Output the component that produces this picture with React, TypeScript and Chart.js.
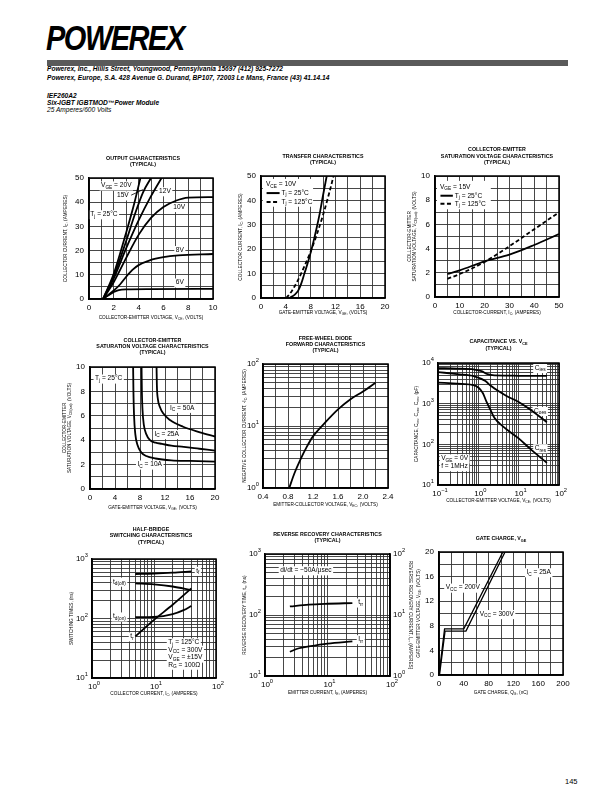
import React, { useEffect, useRef } from 'react';
import { Chart, registerables } from 'chart.js';
Chart.register(...registerables);

const FONT = '"Liberation Sans", Arial, Helvetica, sans-serif';

// ===== 1. Output characteristics (VCE V, IC A) =====
const out6Vce = [1.13, 1.5, 2.0, 2.4, 3.0, 5.0, 10];
const out6Ic = [0, 1.3, 2.9, 3.7, 4.0, 4.1, 4.2];
const out8Vce = [1.13, 2.0, 2.5, 3.0, 3.5, 4.0, 4.9, 6.0, 7.2, 10];
const out8Ic = [0, 3.5, 6.0, 9.2, 12.0, 14.0, 16.0, 17.3, 18.0, 18.6];
const out10Vce = [1.13, 2.0, 3.0, 4.0, 5.0, 6.0, 7.0, 8.0, 10];
const out10Ic = [0, 7.0, 17.0, 26.5, 33.5, 38.0, 40.6, 41.9, 42.1];
const out12Vce = [1.13, 2.0, 3.0, 4.0, 5.0, 5.85];
const out12Ic = [0, 8.5, 21.0, 32.5, 42.5, 50];
const out15Vce = [1.13, 2.0, 3.0, 3.7, 4.35, 5.0];
const out15Ic = [0, 9.5, 24.0, 35.0, 44.0, 50];
const out20Vce = [1.13, 2.0, 3.0, 3.6, 4.15];
const out20Ic = [0, 10.5, 27.5, 38.5, 50];

// ===== 2. Transfer characteristics (VGE V, IC A) =====
const tr25Vge = [4.6, 5.5, 6.0, 6.5, 7.0, 7.5, 8.0, 8.5, 9.0, 9.5, 10.0, 10.6];
const tr25Ic = [0, 1.5, 3.0, 6.0, 10.0, 14.0, 18.5, 23.5, 29.0, 35.0, 42.0, 50];
const tr125Vge = [4.1, 5.0, 6.0, 7.0, 8.0, 9.0, 10.0, 11.0, 11.7];
const tr125Ic = [0, 3.0, 7.5, 13.0, 19.0, 26.0, 34.0, 43.0, 50];

// ===== 3. VCE(sat) vs IC =====
const satIc = [5, 10, 20, 30, 40, 50];
const sat25Vce = [1.9, 2.2, 2.95, 3.5, 4.3, 5.2];
const sat125Vce = [1.5, 1.9, 2.9, 4.2, 5.6, 7.0];

// ===== 4. VCE(sat) vs VGE =====
const gv10Vge = [6.9, 6.95, 7.05, 7.25, 7.6, 8.2, 9.0, 10.5, 13, 16, 20];
const gv10Vce = [10, 8, 6, 4.5, 3.6, 3.0, 2.7, 2.5, 2.35, 2.3, 2.25];
const gv25Vge = [8.25, 8.3, 8.4, 8.6, 9.0, 9.6, 10.5, 11.5, 13, 15, 17.5, 20];
const gv25Vce = [10, 8, 6.5, 5.3, 4.5, 4.0, 3.8, 3.7, 3.55, 3.45, 3.3, 3.15];
const gv50Vge = [10.65, 10.7, 10.85, 11.2, 11.7, 12.8, 14.9, 17.6, 20];
const gv50Vce = [10, 8.5, 7.4, 6.7, 6.2, 5.65, 5.1, 4.65, 4.3];

// ===== 5. Free-wheel diode forward =====
const fwdVec = [0.82, 0.9, 1.0, 1.1, 1.2, 1.4, 1.6, 1.8, 2.0, 2.2];
const fwdIc = [1.0, 1.7, 2.9, 4.6, 6.8, 11.5, 18.5, 27, 36, 50];

// ===== 6. Capacitance vs VCE =====
const ciesV = [0.1, 0.3, 0.8, 1.2, 1.7, 2.5, 5, 10, 50];
const ciesC = [7500, 7300, 6900, 6300, 5300, 4950, 4900, 4850, 4800];
const coesV = [0.1, 0.3, 0.8, 1.5, 2, 3, 5, 10, 20, 50];
const coesC = [6000, 5300, 4700, 3600, 2800, 2100, 1550, 1100, 700, 350];
const cresV = [0.1, 0.3, 0.7, 1.0, 1.3, 1.6, 2.0, 2.5, 4, 10, 20, 50];
const cresC = [3300, 3100, 2900, 2500, 1800, 1100, 700, 450, 280, 140, 75, 35];

// ===== 7. Half-bridge switching =====
const swIc = [5, 10, 20, 40];
const swTf = [560, 570, 590, 620];
const swTdOff = [390, 375, 345, 300];
const swTr = [50, 95, 170, 320];
const swIcOn = [5, 10, 20, 30, 40];
const swTdOn = [105, 106, 118, 138, 162];

// ===== 8. Reverse recovery =====
const rrIe = [2.5, 5, 10, 25];
const rrTrr = [138, 148, 153, 157];
const rrIeIrr = [2.5, 3.5, 5, 10, 25];
const rrIrr = [2.5, 2.85, 3.05, 3.4, 3.7];

// ===== 9. Gate charge =====
const gc200Q = [0, 9, 40, 103];
const gc200V = [0, 7.5, 7.5, 20];
const gc300Q = [0.8, 9.8, 43.5, 106.5];
const gc300V = [0, 7.15, 7.15, 20];

// ===== tick label sets for log axes =====
const dec1to100 = [1, 10, 100];
const dec10to1000 = [10, 100, 1000];
const decCapX = [0.1, 1, 10, 100];
const decCapY = [10, 100, 1000, 10000];

type Axis = { log?: boolean; min: number; max: number; step?: number; labelStep?: number; dec?: number; labels?: number[] };
type Series = { xs: number[]; ys: number[]; dash?: boolean; y2?: boolean; straight?: boolean; w?: number };
type Ann = { x: number; y: number; s: string; align?: 'left' | 'center' | 'right'; y2?: boolean; bg?: boolean; size?: number };
type Seg = { x1: number; y1: number; x2: number; y2: number; dash?: number[]; w?: number };
type Box = { x1: number; y1: number; x2: number; y2: number };
type Spec = {
  plot: [number, number, number, number];
  titles: string[]; titleYs: number[]; titleDx?: number;
  xTitle: string; xTitleDy: number;
  yTitle: string[]; yTitleDx: number[];
  y2Title?: string; y2TitleDx?: number;
  x: Axis; y: Axis; y2?: Axis;
  series: Series[];
  anns?: Ann[]; segs?: Seg[]; boxes?: Box[];
};

const PL = 52, PT = 36, PB = 30, PR = 16;
const ANN = 6.6;
const TICK = 8;

function parseRich(s: string) {
  const out: { t: string; m: string }[] = [];
  let buf = '';
  let i = 0;
  while (i < s.length) {
    const ch = s[i];
    if ((ch === '_' || ch === '^') && s[i + 1] === '{') {
      if (buf) { out.push({ t: buf, m: 'n' }); buf = ''; }
      const end = s.indexOf('}', i + 2);
      out.push({ t: s.slice(i + 2, end), m: ch === '_' ? 'b' : 'p' });
      i = end + 1;
    } else { buf += ch; i++; }
  }
  if (buf) out.push({ t: buf, m: 'n' });
  return out;
}
function richWidth(ctx: any, s: string, size: number, weight: string) {
  let w = 0;
  for (const p of parseRich(s)) {
    ctx.font = `${weight} ${p.m === 'n' ? size : size * 0.72}px ${FONT}`;
    w += ctx.measureText(p.t).width;
  }
  return w;
}
function drawRich(ctx: any, s: string, x: number, y: number, size: number, align: string, weight = 'normal') {
  const w = richWidth(ctx, s, size, weight);
  let cx = align === 'center' ? x - w / 2 : align === 'right' ? x - w : x;
  ctx.textAlign = 'left';
  ctx.textBaseline = 'middle';
  ctx.fillStyle = '#000';
  for (const p of parseRich(s)) {
    const fs = p.m === 'n' ? size : size * 0.72;
    ctx.font = `${weight} ${fs}px ${FONT}`;
    const dy = p.m === 'b' ? size * 0.3 : p.m === 'p' ? -size * 0.4 : 0;
    ctx.fillText(p.t, cx, y + dy);
    cx += ctx.measureText(p.t).width;
  }
  return w;
}
function powLabel(v: number) {
  const e = Math.round(Math.log10(v));
  return '10^{' + (e < 0 ? '\u2212' + Math.abs(e) : String(e)) + '}';
}

function tickList(a: Axis): number[] {
  const out: number[] = [];
  if (a.log) {
    const e0 = Math.floor(Math.log10(a.min) + 1e-9);
    const e1 = Math.ceil(Math.log10(a.max) - 1e-9);
    for (let e = e0; e <= e1; e++) {
      for (let m = 1; m <= 9; m++) {
        const v = parseFloat((m * Math.pow(10, e)).toPrecision(6));
        if (v >= a.min * 0.9999 && v <= a.max * 1.0001) out.push(v);
      }
    }
  } else {
    const n = Math.round((a.max - a.min) / (a.step as number));
    for (let i = 0; i <= n; i++) out.push(parseFloat((a.min + i * (a.step as number)).toFixed(6)));
  }
  return out;
}

function scaleCfg(a: Axis, axis: 'x' | 'y', size: number, position: string, grid: boolean) {
  return {
    type: a.log ? 'logarithmic' : 'linear',
    position,
    min: a.min,
    max: a.max,
    bounds: 'data',
    afterBuildTicks: (sc: any) => { sc.ticks = tickList(a).map((v) => ({ value: v })); },
    afterFit: (sc: any) => { if (axis === 'x') sc.height = size; else sc.width = size; },
    ticks: {
      autoSkip: false, maxRotation: 0, minRotation: 0,
      padding: axis === 'x' ? 4 : 5,
      color: '#000',
      font: { family: FONT, size: TICK },
      callback: (v: number) => {
        if (a.log) return '';
        const k = v / (a.labelStep as number);
        return Math.abs(k - Math.round(k)) < 1e-6 ? v.toFixed(a.dec || 0) : '';
      },
    },
    grid: { display: true, drawOnChartArea: grid, color: '#333', lineWidth: 0.9, drawTicks: false, tickLength: 0 },
    border: { display: true, color: '#000', width: 1.5 },
  };
}

function makeDecor(spec: Spec) {
  return {
    id: 'decor',
    beforeDatasetsDraw(chart: any) {
      const ctx = chart.ctx;
      const sx = chart.scales.x, sy = chart.scales.y, sy2 = chart.scales.y2;
      ctx.save();
      ctx.fillStyle = '#fff';
      (spec.boxes || []).forEach((b) => {
        const x1 = sx.getPixelForValue(b.x1), x2 = sx.getPixelForValue(b.x2);
        const y1 = sy.getPixelForValue(b.y1), y2 = sy.getPixelForValue(b.y2);
        ctx.fillRect(Math.min(x1, x2), Math.min(y1, y2), Math.abs(x2 - x1), Math.abs(y2 - y1));
      });
      (spec.anns || []).forEach((a) => {
        if (!a.bg) return;
        const ys = a.y2 ? sy2 : sy;
        const size = a.size || ANN;
        const px = sx.getPixelForValue(a.x), py = ys.getPixelForValue(a.y);
        const w = richWidth(ctx, a.s, size, 'normal');
        const x0 = a.align === 'right' ? px - w : a.align === 'center' ? px - w / 2 : px;
        ctx.fillStyle = '#fff';
        ctx.fillRect(x0 - 1.5, py - size * 0.62, w + 3, size * 1.38);
      });
      ctx.restore();
    },
    afterDraw(chart: any) {
      const ctx = chart.ctx;
      const ca = chart.chartArea;
      const sx = chart.scales.x, sy = chart.scales.y, sy2 = chart.scales.y2;
      ctx.save();
      // legend samples / leader lines
      (spec.segs || []).forEach((s) => {
        ctx.beginPath();
        ctx.strokeStyle = '#000';
        ctx.lineWidth = s.w || 1;
        ctx.setLineDash(s.dash || []);
        ctx.moveTo(sx.getPixelForValue(s.x1), sy.getPixelForValue(s.y1));
        ctx.lineTo(sx.getPixelForValue(s.x2), sy.getPixelForValue(s.y2));
        ctx.stroke();
      });
      ctx.setLineDash([]);
      // annotations
      (spec.anns || []).forEach((a) => {
        const ys = a.y2 ? sy2 : sy;
        drawRich(ctx, a.s, sx.getPixelForValue(a.x), ys.getPixelForValue(a.y), a.size || ANN, a.align || 'left');
      });
      // frame
      ctx.strokeStyle = '#000';
      ctx.lineWidth = 1.5;
      ctx.strokeRect(ca.left, ca.top, ca.right - ca.left, ca.bottom - ca.top);
      const cx = (ca.left + ca.right) / 2;
      const cy = (ca.top + ca.bottom) / 2;
      // titles
      spec.titles.forEach((t, i) => drawRich(ctx, t, cx + (spec.titleDx || 0), ca.top + spec.titleYs[i], 5.3, 'center', 'bold'));
      drawRich(ctx, spec.xTitle, cx, ca.bottom + spec.xTitleDy, 4.7, 'center');
      spec.yTitle.forEach((t, i) => {
        ctx.save();
        ctx.translate(ca.left + spec.yTitleDx[i], cy);
        ctx.rotate(-Math.PI / 2);
        drawRich(ctx, t, 0, 0, 4.7, 'center');
        ctx.restore();
      });
      if (spec.y2Title) {
        ctx.save();
        ctx.translate(ca.right + (spec.y2TitleDx || 20), cy);
        ctx.rotate(Math.PI / 2);
        drawRich(ctx, spec.y2Title, 0, 0, 4.7, 'center');
        ctx.restore();
      }
      // log tick labels
      if (spec.x.log) (spec.x.labels || []).forEach((v) => drawRich(ctx, powLabel(v), sx.getPixelForValue(v) + 2, ca.bottom + 9, TICK, 'center'));
      if (spec.y.log) (spec.y.labels || []).forEach((v) => drawRich(ctx, powLabel(v), ca.left - 4, sy.getPixelForValue(v), TICK, 'right'));
      if (spec.y2 && spec.y2.log) (spec.y2.labels || []).forEach((v) => drawRich(ctx, powLabel(v), ca.right + 3, sy2.getPixelForValue(v), TICK, 'left'));
      ctx.restore();
    },
  };
}

function buildConfig(spec: Spec): any {
  const scales: any = {
    x: scaleCfg(spec.x, 'x', PB, 'bottom', true),
    y: scaleCfg(spec.y, 'y', PL, 'left', true),
  };
  if (spec.y2) scales.y2 = scaleCfg(spec.y2, 'y', 40, 'right', false);
  return {
    type: 'scatter',
    data: {
      datasets: spec.series.map((s) => ({
        data: s.xs.map((x, i) => ({ x, y: s.ys[i] })),
        showLine: true,
        pointRadius: 0,
        pointHoverRadius: 0,
        borderColor: '#000',
        backgroundColor: '#000',
        borderWidth: s.w || 1.8,
        borderDash: s.dash ? [4, 2.5] : [],
        cubicInterpolationMode: s.straight ? 'default' : 'monotone',
        tension: 0,
        fill: false,
        yAxisID: s.y2 ? 'y2' : 'y',
      })),
    },
    options: {
      responsive: false,
      animation: false,
      devicePixelRatio: 1,
      events: [],
      layout: { padding: { left: 0, top: PT, right: spec.y2 ? 4 : PR, bottom: 0 } },
      plugins: { legend: { display: false }, tooltip: { enabled: false }, title: { display: false } },
      scales,
    },
    plugins: [makeDecor(spec)],
  };
}

const specs: Spec[] = [
  {
    plot: [89, 178, 213, 299],
    titles: ['OUTPUT CHARACTERISTICS', '(TYPICAL)'], titleYs: [-19, -13], titleDx: -8,
    xTitle: 'COLLECTOR-EMITTER VOLTAGE, V_{CE}, (VOLTS)', xTitleDy: 19,
    yTitle: ['COLLECTOR CURRENT, I_{C}, (AMPERES)'], yTitleDx: [-23],
    x: { min: 0, max: 10, step: 1, labelStep: 2 },
    y: { min: 0, max: 50, step: 5, labelStep: 10 },
    series: [
      { xs: out6Vce, ys: out6Ic }, { xs: out8Vce, ys: out8Ic }, { xs: out10Vce, ys: out10Ic },
      { xs: out12Vce, ys: out12Ic }, { xs: out15Vce, ys: out15Ic }, { xs: out20Vce, ys: out20Ic },
    ],
    anns: [
      { x: 0.97, y: 46.9, s: 'V_{GE} = 20V', bg: true },
      { x: 2.26, y: 42.8, s: '15V', bg: true },
      { x: 5.65, y: 44.5, s: '12V', bg: true },
      { x: 6.8, y: 38, s: '10V', bg: true },
      { x: 7.0, y: 20.2, s: '8V', bg: true },
      { x: 7.0, y: 6.8, s: '6V', bg: true },
      { x: 0.1, y: 35.0, s: 'T_{j} = 25\u00B0C', bg: true },
    ],
    segs: [{ x1: 3.4, y1: 42.9, x2: 4.35, y2: 45.2, w: 0.8 }],
  },
  {
    plot: [261, 176, 385, 298],
    titles: ['TRANSFER CHARACTERISTICS', '(TYPICAL)'], titleYs: [-19, -13],
    xTitle: 'GATE-EMITTER VOLTAGE, V_{GE}, (VOLTS)', xTitleDy: 15,
    yTitle: ['COLLECTOR CURRENT, I_{C}, (AMPERES)'], yTitleDx: [-20],
    x: { min: 0, max: 20, step: 2, labelStep: 4 },
    y: { min: 0, max: 50, step: 5, labelStep: 10 },
    series: [{ xs: tr25Vge, ys: tr25Ic }, { xs: tr125Vge, ys: tr125Ic, dash: true }],
    boxes: [{ x1: 0.3, y1: 37.4, x2: 8.4, y2: 48.8 }],
    anns: [
      { x: 0.8, y: 46.6, s: 'V_{CE} = 10V' },
      { x: 3.3, y: 43.0, s: 'T_{j} = 25\u00B0C' },
      { x: 3.3, y: 39.3, s: 'T_{j} = 125\u00B0C' },
    ],
    segs: [
      { x1: 0.9, y1: 43.0, x2: 3.0, y2: 43.0, w: 2 },
      { x1: 0.9, y1: 39.3, x2: 3.0, y2: 39.3, w: 2, dash: [4, 2.5] },
    ],
  },
  {
    plot: [435, 176, 559, 297],
    titles: ['COLLECTOR-EMITTER', 'SATURATION VOLTAGE CHARACTERISTICS', '(TYPICAL)'], titleYs: [-26, -19.5, -13],
    xTitle: 'COLLECTOR-CURRENT, I_{C}, (AMPERES)', xTitleDy: 16,
    yTitle: ['COLLECTOR-EMITTER', 'SATURATION VOLTAGE, V_{CE(sat)}, (VOLTS)'], yTitleDx: [-25, -20],
    x: { min: 0, max: 50, step: 5, labelStep: 10 },
    y: { min: 0, max: 10, step: 1, labelStep: 2 },
    series: [{ xs: satIc, ys: sat25Vce }, { xs: satIc, ys: sat125Vce, dash: true }],
    boxes: [{ x1: 0.8, y1: 7.25, x2: 22.5, y2: 9.6 }],
    anns: [
      { x: 2.0, y: 9.1, s: 'V_{GE} = 15V' },
      { x: 8.0, y: 8.37, s: 'T_{j} = 25\u00B0C' },
      { x: 8.0, y: 7.7, s: 'T_{j} = 125\u00B0C' },
    ],
    segs: [
      { x1: 2.2, y1: 8.37, x2: 7.2, y2: 8.37, w: 2 },
      { x1: 2.2, y1: 7.7, x2: 7.2, y2: 7.7, w: 2, dash: [4, 2.5] },
    ],
  },
  {
    plot: [90, 367, 215, 489],
    titles: ['COLLECTOR-EMITTER', 'SATURATION VOLTAGE CHARACTERISTICS', '(TYPICAL)'], titleYs: [-26, -20, -14],
    xTitle: 'GATE-EMITTER VOLTAGE, V_{GE}, (VOLTS)', xTitleDy: 19,
    yTitle: ['COLLECTOR-EMITTER', 'SATURATION VOLTAGE, V_{CE(sat)}, (VOLTS)'], yTitleDx: [-25, -20],
    x: { min: 0, max: 20, step: 2, labelStep: 4 },
    y: { min: 0, max: 10, step: 1, labelStep: 2 },
    series: [{ xs: gv10Vge, ys: gv10Vce }, { xs: gv25Vge, ys: gv25Vce }, { xs: gv50Vge, ys: gv50Vce }],
    anns: [
      { x: 0.8, y: 9.05, s: 'T_{j} = 25\u00B0C', bg: true },
      { x: 12.8, y: 6.65, s: 'I_{C} = 50A', bg: true },
      { x: 10.3, y: 4.5, s: 'I_{C} = 25A', bg: true },
      { x: 7.6, y: 2.0, s: 'I_{C} = 10A', bg: true },
    ],
  },
  {
    plot: [263, 364, 388, 488],
    titles: ['FREE-WHEEL DIODE', 'FORWARD CHARACTERISTICS', '(TYPICAL)'], titleYs: [-25, -19, -13],
    xTitle: 'EMITTER-COLLECTOR VOLTAGE, V_{EC}, (VOLTS)', xTitleDy: 17,
    yTitle: ['NEGATIVE COLLECTOR CURRENT, -I_{C}, (AMPERES)'], yTitleDx: [-18],
    x: { min: 0.4, max: 2.4, step: 0.2, labelStep: 0.4, dec: 1 },
    y: { log: true, min: 1, max: 100, labels: dec1to100 },
    series: [{ xs: fwdVec, ys: fwdIc }],
  },
  {
    plot: [438, 363, 559, 485],
    titles: ['CAPACITANCE VS. V_{CE}', '(TYPICAL)'], titleYs: [-21, -14],
    xTitle: 'COLLECTOR-EMITTER VOLTAGE, V_{CE}, (VOLTS)', xTitleDy: 16,
    yTitle: ['CAPACITANCE, C_{ies}, C_{oes}, C_{res}, (pF)'], yTitleDx: [-21],
    x: { log: true, min: 0.1, max: 100, labels: decCapX },
    y: { log: true, min: 10, max: 10000, labels: decCapY },
    series: [{ xs: ciesV, ys: ciesC }, { xs: coesV, ys: coesC }, { xs: cresV, ys: cresC }],
    anns: [
      { x: 25, y: 7500, s: 'C_{ies}', bg: true },
      { x: 24, y: 660, s: 'C_{oes}', bg: true },
      { x: 25, y: 80, s: 'C_{res}', bg: true },
      { x: 0.12, y: 45, s: 'V_{GE} = 0V', bg: true },
      { x: 0.12, y: 29, s: 'f = 1MHz', bg: true },
    ],
  },
  {
    plot: [92, 559, 216, 678],
    titles: ['HALF-BRIDGE', 'SWITCHING CHARACTERISTICS', '(TYPICAL)'], titleYs: [-29, -23, -16], titleDx: -3,
    xTitle: 'COLLECTOR CURRENT, I_{C}, (AMPERES)', xTitleDy: 16,
    yTitle: ['SWITCHING TIMES, (ns)'], yTitleDx: [-20],
    x: { log: true, min: 1, max: 100, labels: dec1to100 },
    y: { log: true, min: 10, max: 1000, labels: dec10to1000 },
    series: [
      { xs: swIc, ys: swTf }, { xs: swIc, ys: swTdOff }, { xs: swIcOn, ys: swTdOn }, { xs: swIc, ys: swTr },
    ],
    anns: [
      { x: 48, y: 630, s: 't_{f}', bg: true },
      { x: 2.18, y: 415, s: 't_{d(off)}', bg: true },
      { x: 2.18, y: 108, s: 't_{d(on)}', bg: true },
      { x: 4.7, y: 50, s: 't_{r}', align: 'right', bg: true },
      { x: 17, y: 39.6, s: 'T_{j} = 125\u00B0C', bg: true },
      { x: 17, y: 29.8, s: 'V_{CC} = 300V', bg: true },
      { x: 17, y: 22, s: 'V_{GE} = \u00B115V', bg: true },
      { x: 17, y: 16.7, s: 'R_{G} = 100\u03A9', bg: true },
    ],
  },
  {
    plot: [265, 554, 390, 676],
    titles: ['REVERSE RECOVERY CHARACTERISTICS', '(TYPICAL)'], titleYs: [-19, -13],
    xTitle: 'EMITTER CURRENT, I_{E}, (AMPERES)', xTitleDy: 17,
    yTitle: ['REVERSE RECOVERY TIME, t_{rr}, (ns)'], yTitleDx: [-20],
    y2Title: 'REVERSE RECOVERY CURRENT, I_{rr}, (AMPERES)', y2TitleDx: 20,
    x: { log: true, min: 1, max: 100, labels: dec1to100 },
    y: { log: true, min: 10, max: 1000, labels: dec10to1000 },
    y2: { log: true, min: 1, max: 100, labels: dec1to100 },
    series: [{ xs: rrIe, ys: rrTrr }, { xs: rrIeIrr, ys: rrIrr, y2: true }],
    anns: [
      { x: 1.75, y: 540, s: 'di/dt = \u221250A/\u03BCsec', bg: true },
      { x: 31, y: 160, s: 't_{rr}', bg: true },
      { x: 31, y: 4.0, s: 'I_{rr}', y2: true, bg: true },
    ],
  },
  {
    plot: [439, 552, 563, 675],
    titles: ['GATE CHARGE, V_{GE}'], titleYs: [-13],
    xTitle: 'GATE CHARGE, Q_{G}, (nC)', xTitleDy: 18,
    yTitle: ['GATE-EMITTER VOLTAGE, V_{GE}, (VOLTS)'], yTitleDx: [-20],
    x: { min: 0, max: 200, step: 20, labelStep: 40 },
    y: { min: 0, max: 20, step: 2, labelStep: 4 },
    series: [
      { xs: gc200Q, ys: gc200V, straight: true, w: 1.3 },
      { xs: gc300Q, ys: gc300V, straight: true, w: 1.3 },
    ],
    anns: [
      { x: 141, y: 16.7, s: 'I_{C} = 25A', bg: true },
      { x: 10.8, y: 14.2, s: 'V_{CC} = 200V', bg: true },
      { x: 65.6, y: 9.9, s: 'V_{CC} = 300V', bg: true },
    ],
  },
];

function PlotCanvas({ spec }: { spec: Spec }) {
  const ref = useRef<HTMLCanvasElement>(null);
  const [L, T, R, B] = spec.plot;
  const pr = spec.y2 ? 44 : PR;
  const left = L - PL, top = T - PT;
  const width = R - L + PL + pr, height = B - T + PT + PB;
  useEffect(() => {
    const chart = new Chart(ref.current as HTMLCanvasElement, buildConfig(spec));
    return () => chart.destroy();
  }, [spec]);
  return <canvas ref={ref} width={width} height={height} style={{ position: 'absolute', left, top, width, height }} />;
}

export default function App() {
  const txt = (t: number, s: string, extra: any) => (
    <div style={{ position: 'absolute', left: 47, top: t, fontSize: 6.6, lineHeight: '8px', whiteSpace: 'nowrap', ...extra }}>{s}</div>
  );
  return (
    <div style={{ position: 'absolute', left: 0, top: 0, width: 612, height: 792, background: '#fff', fontFamily: FONT, color: '#000', overflow: 'hidden' }}>
      <div style={{ position: 'absolute', left: 46, top: 20.5, fontSize: 29, lineHeight: '29px', fontWeight: 900, fontStyle: 'italic', letterSpacing: -1.5, transform: 'scaleY(1.2)', transformOrigin: 'left top', whiteSpace: 'nowrap' }}>POWEREX</div>
      <div style={{ position: 'absolute', left: 47, top: 60, width: 521, height: 6, background: '#5a5a5a' }} />
      {txt(65, 'Powerex, Inc., Hillis Street, Youngwood, Pennsylvania 15697 (412) 925-7272', { fontWeight: 'bold', fontStyle: 'italic' })}
      {txt(74, 'Powerex, Europe, S.A. 428 Avenue G. Durand, BP107, 72003 Le Mans, France (43) 41.14.14', { fontWeight: 'bold', fontStyle: 'italic' })}
      {txt(91.5, 'IEF260A2', { fontWeight: 'bold', fontStyle: 'italic' })}
      {txt(98.5, 'Six-IGBT IGBTMOD\u2122Power Module', { fontWeight: 'bold', fontStyle: 'italic' })}
      {txt(105.5, '25 Amperes/600 Volts', { fontStyle: 'italic' })}
      {specs.map((s, i) => <PlotCanvas key={i} spec={s} />)}
      <div style={{ position: 'absolute', left: 565, top: 777, fontSize: 7.5, lineHeight: '9px' }}>145</div>
    </div>
  );
}
